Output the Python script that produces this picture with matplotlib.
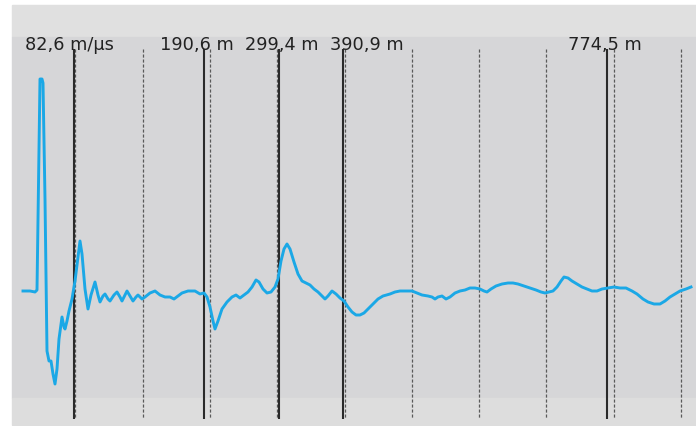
import matplotlib
matplotlib.use("Agg")
import matplotlib.pyplot as plt
from matplotlib.patches import Rectangle

# trace (pixel-like units: x to the right, y downwards)
trace_x = [23, 30, 35, 37, 39, 40, 42, 43, 45, 47, 49, 51, 53, 55, 57, 59, 62, 64, 65, 67,
           69, 72, 75, 78, 80, 82, 85, 88, 91, 95, 98, 100, 103, 105, 108, 110, 114, 117,
           120, 122, 125, 127, 130, 133, 136, 138, 142, 145, 150, 155, 160, 165, 170, 174,
           178, 182, 188, 195, 200, 204, 207, 210, 213, 215, 218, 222, 227, 232, 236, 240,
           244, 248, 252, 256, 259, 263, 267, 271, 275, 278, 281, 284, 287, 290, 294, 298,
           302, 306, 310, 314, 318, 322, 325, 328, 332, 336, 340, 344, 348, 352, 356, 360,
           364, 368, 373, 378, 383, 390, 395, 400, 406, 412, 417, 422, 428, 432, 435, 438,
           442, 446, 450, 455, 460, 465, 470, 475, 480, 484, 487, 491, 496, 502, 508, 513,
           518, 524, 530, 536, 541, 545, 549, 553, 557, 561, 564, 568, 572, 577, 582, 587,
           592, 597, 602, 608, 614, 620, 626, 632, 637, 643, 648, 654, 660, 665, 670, 675,
           680, 686, 691]
trace_y = [292, 292, 293, 291, 150, 80, 80, 84, 200, 352, 362, 362, 375, 385, 370, 340, 318, 328, 330, 322,
           312, 300, 282, 258, 242, 255, 290, 310, 296, 283, 296, 303, 297, 295, 300, 302, 296, 293,
           298, 302, 296, 292, 297, 302, 298, 296, 300, 298, 294, 292, 296, 298, 298, 300,
           297, 294, 292, 292, 295, 294, 298, 308, 322, 330, 322, 310, 303, 298, 296, 299,
           296, 293, 288, 281, 283, 290, 294, 293, 288, 280, 262, 250, 245, 250, 263, 275,
           282, 284, 286, 290, 293, 297, 300, 297, 292, 295, 299, 302, 308, 313, 316, 316,
           314, 310, 305, 300, 297, 295, 293, 292, 292, 292, 294, 296, 297, 298, 300, 298,
           297, 300, 298, 294, 292, 291, 289, 289, 290, 292, 293, 290, 287, 285, 284, 284,
           285, 287, 289, 291, 293, 294, 293, 292, 288, 282, 278, 279, 282, 285, 288, 290,
           292, 292, 290, 289, 288, 289, 289, 292, 295, 300, 303, 305, 305, 302, 298, 295,
           292, 290, 288]

# marker lines
solid_x = [74, 204, 279, 343, 607]
dashed_x = [75, 143, 210, 277, 345, 412, 479, 546, 614, 681]
labels = ["82,6 m/μs", "190,6 m", "299,4 m", "390,9 m", "774,5 m"]
label_x = [25, 160, 245, 330, 568]

fig = plt.figure(figsize=(6.96, 4.27), dpi=100)
fig.patch.set_facecolor("white")
ax = fig.add_axes([0, 0, 1, 1])
ax.set_xlim(0, 696)
ax.set_ylim(427, 0)
ax.axis("off")

# panel background
ax.add_patch(Rectangle((12, 6), 684, 32, color="#e0e0e0", zorder=0))
ax.add_patch(Rectangle((12, 38), 684, 361, color="#d6d6d8", zorder=0))
ax.add_patch(Rectangle((12, 399), 684, 27, color="#dddddd", zorder=0))

ax.vlines(dashed_x, 50, 420, colors="#5a5a5a", linewidth=0.9,
          linestyles=(0, (2.5, 1.5)), zorder=1)
ax.vlines(solid_x, 50, 420, colors="#2a2a2a", linewidth=1.5, zorder=2)

ax.plot(trace_x, trace_y, color="#1ba8e6", linewidth=2.1,
        solid_joinstyle="round", zorder=3)

for lx, txt in zip(label_x, labels):
    ax.text(lx, 50, txt, fontsize=12.8, color="#222222", family="DejaVu Sans",
            ha="left", va="baseline", zorder=4)

fig.savefig("out.png", dpi=100)
